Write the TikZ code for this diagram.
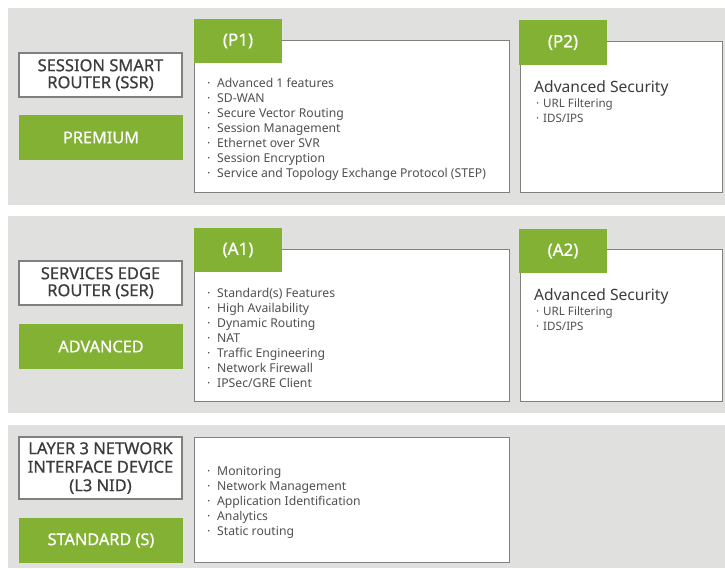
\documentclass[tikz,border=0pt]{standalone}
\usepackage{fontspec}
\setmainfont{Noto Sans}
\newfontfamily\medfont[FakeBold=0.7]{Noto Sans}
\definecolor{bandgray}{RGB}{224,224,222}
\definecolor{tiergreen}{RGB}{130,177,52}
\definecolor{edgegray}{RGB}{128,128,128}
\definecolor{titletxt}{RGB}{60,60,60}
\definecolor{listtxt}{RGB}{80,80,80}
\tikzset{
  band/.style={fill=bandgray},
  titlebox/.style={draw=edgegray, line width=1.2pt, fill=white, minimum width=163, minimum height=44, inner sep=0pt, align=center, text=titletxt, font=\medfont\fontsize{16.5}{17}\selectfont},
  tierbox/.style={fill=tiergreen, minimum width=164, minimum height=45, inner sep=0pt, text=white, font=\medfont\fontsize{16.3}{18}\selectfont},
  featbox/.style={draw=edgegray, line width=0.9pt, fill=white, inner sep=0pt},
  tabbox/.style={fill=tiergreen, minimum width=88, minimum height=44, inner sep=0pt, text=white, font=\medfont\fontsize{17}{18}\selectfont},
  item/.style={anchor=base west, inner sep=0pt, text=listtxt, font=\fontsize{12.2}{15}\selectfont},
  subitem/.style={anchor=base west, inner sep=0pt, text=listtxt, font=\fontsize{11.6}{15}\selectfont},
  sechead/.style={anchor=base west, inner sep=0pt, text=titletxt, font=\fontsize{15.6}{18}\selectfont},
}
\newcommand{\blt}[1]{\makebox[10pt][l]{·}#1}
\newcommand{\bltb}[1]{\makebox[7pt][l]{·}#1}
\begin{document}
\begin{tikzpicture}[x=1pt,y=-1pt]
\useasboundingbox (0,0) rectangle (725,569);
\fill[white] (0,0) rectangle (725,569);
\fill[band] (8,8) rectangle (725,205);
\fill[band] (8,216) rectangle (725,413);
\fill[band] (8,425) rectangle (725,568);

% ---- Premium band
\node[titlebox] (ssr) at (100.5,75) {SESSION SMART\\ROUTER (SSR)};
\node[tierbox] (premium) at (101,137.5) {PREMIUM};
\node[featbox, minimum width=315, minimum height=152] (p1box) at (351.5,116) {};
\node[tabbox] (p1tab) at (238,41) {(P1)};
\node[featbox, minimum width=202, minimum height=151] (p2box) at (621,116.5) {};
\node[tabbox, minimum height=45] (p2tab) at (563,42.5) {(P2)};
\foreach \t [count=\i] in {Advanced 1 features,SD-WAN,Secure Vector Routing,Session Management,Ethernet over SVR,Session Encryption,Service and Topology Exchange Protocol (STEP)}
  \node[item] (p1i\i) at (207,{88+15*(\i-1)}) {\blt{\t}};
\node[sechead] (p2h) at (534,92.5) {Advanced Security};
\node[subitem] (p2i1) at (536,107.5) {\bltb{URL Filtering}};
\node[subitem] (p2i2) at (536,122.5) {\bltb{IDS/IPS}};

% ---- Advanced band
\node[titlebox] (ser) at (100.5,283) {SERVICES EDGE\\ROUTER (SER)};
\node[tierbox] (advanced) at (101,346.5) {ADVANCED};
\node[featbox, minimum width=315, minimum height=152] (a1box) at (351.5,325) {};
\node[tabbox] (a1tab) at (238,250) {(A1)};
\node[featbox, minimum width=202, minimum height=152] (a2box) at (621,325) {};
\node[tabbox] (a2tab) at (563,251) {(A2)};
\foreach \t [count=\i] in {Standard(s) Features,High Availability,Dynamic Routing,NAT,Traffic Engineering,Network Firewall,IPSec/GRE Client}
  \node[item] (a1i\i) at (207,{297+15*(\i-1)}) {\blt{\t}};
\node[sechead] (a2h) at (534,300.5) {Advanced Security};
\node[subitem] (a2i1) at (536,315.5) {\bltb{URL Filtering}};
\node[subitem] (a2i2) at (536,330.5) {\bltb{IDS/IPS}};

% ---- Standard band
\node[titlebox, minimum height=62, font=\medfont\fontsize{16.5}{18.5}\selectfont] (l3) at (100.5,468) {LAYER 3 NETWORK\\INTERFACE DEVICE\\(L3 NID)};
\node[tierbox] (standard) at (101,540.5) {STANDARD (S)};
\node[featbox, minimum width=315, minimum height=125] (sbox) at (351.5,499.5) {};
\foreach \t [count=\i] in {Monitoring,Network Management,Application Identification,Analytics,Static routing}
  \node[item] (si\i) at (207,{475+15*(\i-1)}) {\blt{\t}};
\end{tikzpicture}
\end{document}
